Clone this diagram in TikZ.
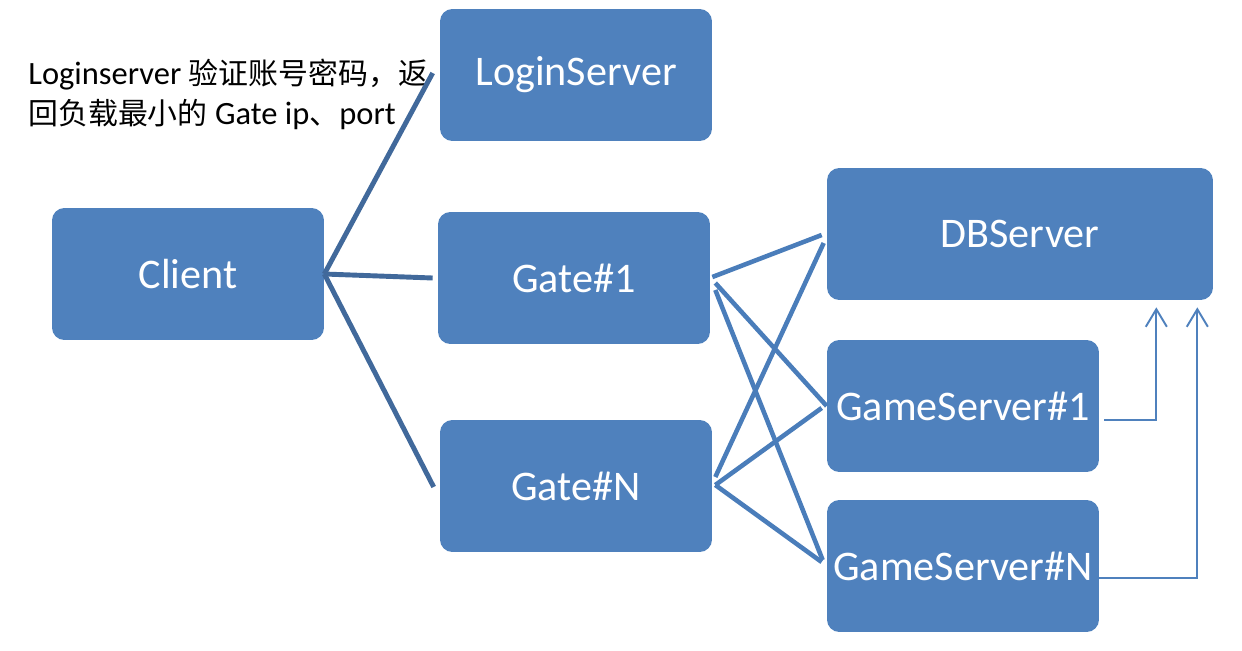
\documentclass[tikz,border=0pt]{standalone}
\usepackage{fontspec}
\setmainfont{Carlito}
\newfontfamily\cjk[Scale=0.92]{Noto Sans CJK SC}
\usetikzlibrary{calc,arrows.meta}
\definecolor{boxblue}{HTML}{4F81BD}
\definecolor{linkblue}{HTML}{41699B}
\definecolor{crossblue}{HTML}{4A7DBA}

\begin{document}
\begin{tikzpicture}[x=0.02cm,y=-0.02cm,
  srv/.style={fill=boxblue,rounded corners=7pt,text=white,inner sep=0pt,
    font=\fontsize{24}{28}\selectfont,minimum width=5.44cm,minimum height=2.64cm},
  link/.style={draw=linkblue,line width=2.8pt},
  cross/.style={draw=crossblue,line width=2.6pt},
  feed/.style={draw=boxblue,line width=1.1pt,-{Straight Barb[length=10pt,width=12pt]}}]
\useasboundingbox (0,0) rectangle (1242,650);
% servers
\node[srv] (login) at (576,75) {LoginServer};
\node[srv] (client) at (188,274) {Client};
\node[srv] (gate1) at (574,278) {Gate\#1};
\node[srv] (gaten) at (576,486) {Gate\#N};
\node[srv,minimum width=7.72cm] (db) at (1020,234) {DBServer};
\node[srv] (gs1) at (963,406) {GameServer\#1};
\node[srv] (gsn) at (963,566) {GameServer\#N};
\node[anchor=base west,align=left,inner sep=0pt,font=\fontsize{18.5}{22.4}\selectfont] (note) at (28,124)
  {Loginserver {\cjk 验证账号密码，返}\\{\cjk 回负载最小的} Gate ip{\cjk 、}port};
% client side
\draw[link] (client.east) -- ($(login.west)+(-7,-2)$);
\draw[link] (client.east) -- ($(gate1.west)+(-5,0)$);
\draw[link] (client.east) -- ($(gaten.west)+(-6,1)$);
% gates to back end
\draw[cross] ($(gate1.east)+(2,-1)$) -- ($(db.west)+(-5,1)$);
\draw[cross] ($(gate1.east)+(5,5)$) -- (gs1.west);
\draw[cross] ($(gate1.east)+(5,12)$) -- ($(gsn.west)+(-4,-6)$);
\draw[cross] ($(gaten.east)+(3,-9)$) -- ($(db.west)+(-3,9)$);
\draw[cross] ($(gaten.east)+(3,-1)$) -- ($(gs1.west)+(-5,2)$);
\draw[cross] ($(gaten.east)+(3,-1)$) -- ($(gsn.west)+(-5,-4)$);
% game servers to db
\draw[feed] ($(gs1.east)+(5,14)$) -| ($(db.south east)+(-57,7)$);
\draw[feed] ($(gsn.east)+(0,12)$) -| ($(db.south east)+(-16,7)$);
\end{tikzpicture}
\end{document}
